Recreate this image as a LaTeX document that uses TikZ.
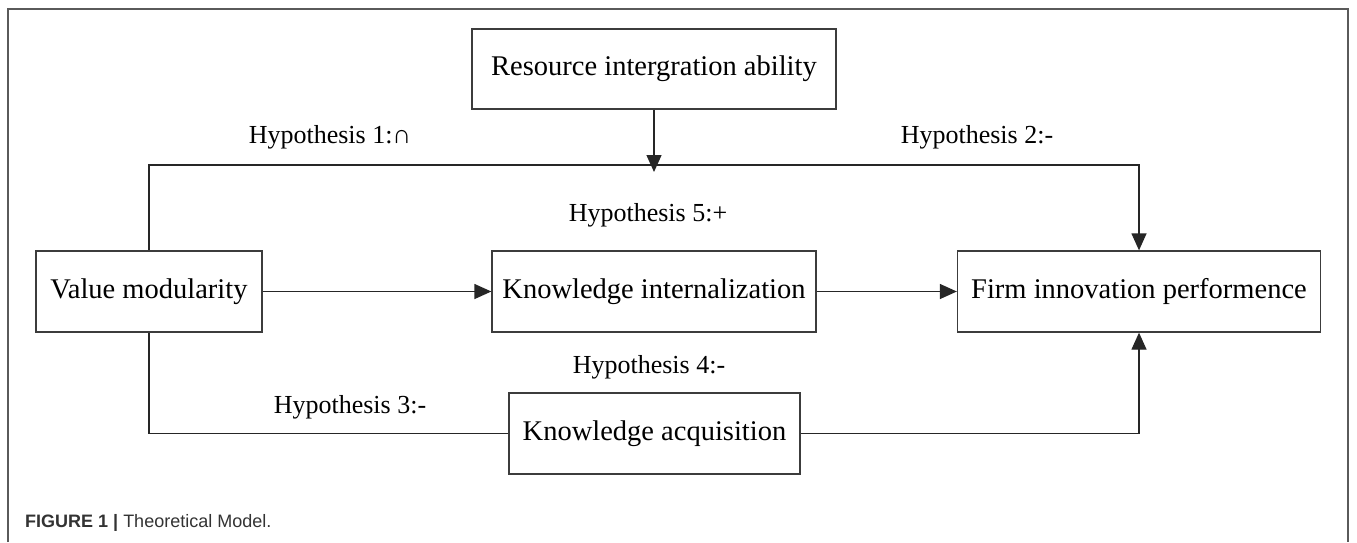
\documentclass[tikz,border=0pt]{standalone}
\usepackage{fontspec}
\setmainfont{Liberation Serif}
\newfontfamily\capfont{Liberation Sans}
\usetikzlibrary{arrows.meta}
\definecolor{framegray}{HTML}{5A5A5A}
\definecolor{boxgray}{HTML}{3C3C3C}
\definecolor{captxt}{HTML}{333333}
\tikzset{
  stepbox/.style={draw=boxgray, line width=1.3pt, inner sep=0pt, align=center,
    font=\fontsize{28.5}{32}\selectfont},
  hyplabel/.style={inner sep=0pt, font=\fontsize{26}{30}\selectfont},
  conn/.style={draw=black!85, line width=1.3pt},
  arr/.style={conn, -{Triangle[length=17pt,width=15pt]}},
}
\begin{document}
\begin{tikzpicture}[x=1pt,y=-1pt]
\useasboundingbox (0,0) rectangle (1357,542);
\fill[white] (0,0) rectangle (1357,542);
% frame
\draw[framegray, line width=1.2pt] (8,542) -- (8,9) -- (1348,9) -- (1348,542);
% boxes
\node[stepbox, minimum width=364pt, minimum height=80pt] (ri) at (654,69) {Resource intergration ability};
\node[stepbox, minimum width=226pt, minimum height=81pt] (vm) at (149,291.5) {Value modularity};
\node[stepbox, minimum width=324pt, minimum height=81pt] (ki) at (654,291.5) {Knowledge internalization};
\node[stepbox, minimum width=363pt, minimum height=81pt] (fp) at (1139,291.5) {Firm innovation performence};
\node[stepbox, minimum width=291pt, minimum height=81pt] (ka) at (654.5,433.5) {Knowledge acquisition};
% coordinates
\coordinate (tl) at (149,165);
\coordinate (tr) at (1139,165);
\coordinate (tm) at (654,172);
% connectors
\draw[arr] (vm.north) -- (tl) -- (tr) -- (fp.north);
\draw[arr] (ri.south) -- (tm);
\draw[arr] (vm.east) -- (ki.west);
\draw[arr] (ki.east) -- (fp.west);
\draw[conn] (vm.south) |- (ka.west);
\draw[arr] (ka.east) -| (fp.south);
% labels
\node[hyplabel] (h1) at (330,137) {Hypothesis 1:∩};
\node[hyplabel] (h2) at (977,137) {Hypothesis 2:-};
\node[hyplabel] (h5) at (648,215) {Hypothesis 5:+};
\node[hyplabel] (h4) at (649,367) {Hypothesis 4:-};
\node[hyplabel] (h3) at (350,407) {Hypothesis 3:-};
% caption
\node[anchor=west, inner sep=0pt, text=captxt, font=\capfont\fontsize{18}{21}\selectfont] (cap) at (25,523)
  {\textbf{FIGURE 1} \textbf{|} Theoretical Model.};
\end{tikzpicture}
\end{document}
